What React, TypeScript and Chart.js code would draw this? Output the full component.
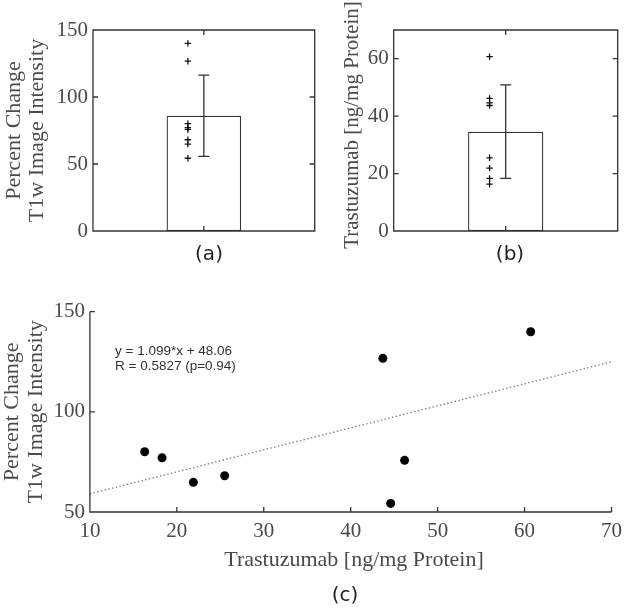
import React, { useEffect, useRef } from 'react';
import { Chart, registerables } from 'chart.js';

Chart.register(...registerables);

// ---------- data ----------
const trastuzumab = [16.3, 18.3, 21.9, 25.5, 43.7, 44.6, 46.2, 60.7]; // ng/mg protein
const intensity = [80.1, 77.1, 64.8, 68.1, 126.7, 54.3, 75.8, 140.0]; // % change T1w
const barMeans = [86.0, 34.6]; // (a), (b)
const barSDs = [30.3, 16.3];
const fitX = [10, 70];
const fitY = [59.05, 124.99];
const ticksA = [0, 50, 100, 150];
const ticksB = [0, 20, 40, 60];
const ticksCx = [10, 20, 30, 40, 50, 60, 70];
const ticksCy = [50, 100, 150];
const equationLines = ['y = 1.099*x + 48.06', 'R = 0.5827 (p=0.94)'];
const panelLabels = ['(a)', '(b)', '(c)'];
const titleIntensity = ['Percent Change', 'T1w Image Intensity'];
const titleTrastuzumab = 'Trastuzumab [ng/mg Protein]';

// ---------- styles ----------
const AXIS = '#333333';
const TEXT = '#4a4a4a';
const SERIF = "'Liberation Serif', 'DejaVu Serif', serif";
const SANS = "'DejaVu Sans', Verdana, sans-serif";
const ARIAL = "'Liberation Sans', Arial, sans-serif";
const PLUS_OFFSET = 0.18;
const TICK_LEN = 5;

function framePlugin(box: boolean, yTicks: number[], xTicks: number[]) {
  return {
    id: 'frame',
    afterDatasetsDraw(chart: any) {
      const { ctx, chartArea: a } = chart;
      const ys = chart.scales.y;
      const xs = chart.scales.x;
      ctx.save();
      ctx.strokeStyle = AXIS;
      ctx.lineWidth = 1.3;
      ctx.beginPath();
      if (box) {
        ctx.rect(a.left, a.top, a.right - a.left, a.bottom - a.top);
      } else {
        ctx.moveTo(a.left, a.top);
        ctx.lineTo(a.left, a.bottom);
        ctx.lineTo(a.right, a.bottom);
      }
      for (const v of yTicks) {
        const p = ys.getPixelForValue(v);
        ctx.moveTo(a.left, p);
        ctx.lineTo(a.left + TICK_LEN, p);
        if (box) {
          ctx.moveTo(a.right, p);
          ctx.lineTo(a.right - TICK_LEN, p);
        }
      }
      for (const v of xTicks) {
        const p = xs.getPixelForValue(v);
        ctx.moveTo(p, a.bottom);
        ctx.lineTo(p, a.bottom - TICK_LEN);
        if (box) {
          ctx.moveTo(p, a.top);
          ctx.lineTo(p, a.top + TICK_LEN);
        }
      }
      ctx.stroke();
      ctx.restore();
    },
  };
}

function errorBarPlugin(mean: number, sd: number) {
  return {
    id: 'errbar',
    afterDatasetsDraw(chart: any) {
      const { ctx } = chart;
      const x = chart.scales.x.getPixelForValue(0);
      const y = chart.scales.y;
      const t = y.getPixelForValue(mean + sd);
      const b = y.getPixelForValue(mean - sd);
      const cap = 5.5;
      ctx.save();
      ctx.strokeStyle = AXIS;
      ctx.lineWidth = 1.3;
      ctx.beginPath();
      ctx.moveTo(x, t);
      ctx.lineTo(x, b);
      ctx.moveTo(x - cap, t);
      ctx.lineTo(x + cap, t);
      ctx.moveTo(x - cap, b);
      ctx.lineTo(x + cap, b);
      ctx.stroke();
      ctx.restore();
    },
  };
}

type TextItem = { text: string; x: number; y: number; font: string; color: string; align?: CanvasTextAlign; rot?: number };

function textPlugin(items: TextItem[]) {
  return {
    id: 'texts',
    afterDraw(chart: any) {
      const { ctx } = chart;
      for (const it of items) {
        ctx.save();
        ctx.font = it.font;
        ctx.fillStyle = it.color;
        ctx.textAlign = it.align || 'center';
        ctx.textBaseline = 'middle';
        ctx.translate(it.x, it.y);
        if (it.rot) ctx.rotate(it.rot);
        ctx.fillText(it.text, 0, 0);
        ctx.restore();
      }
    },
  };
}

function setTicks(values: number[]) {
  return (s: any) => {
    s.ticks = values.map((v) => ({ value: v }));
  };
}

const tickFont = { family: SERIF, size: 21 };

function barConfig(
  mean: number,
  sd: number,
  samples: number[],
  yMax: number,
  yTicks: number[],
  yWidth: number,
  padRight: number,
  yTitle: any,
  texts: TextItem[]
): any {
  return {
    type: 'bar',
    data: {
      labels: [''],
      datasets: [
        {
          type: 'bar',
          data: [mean],
          backgroundColor: '#ffffff',
          borderColor: AXIS,
          borderWidth: 1.3,
          borderSkipped: false,
          grouped: false,
          categoryPercentage: 1,
          barPercentage: 0.336,
          order: 2,
        },
        {
          type: 'scatter',
          xAxisID: 'x2',
          data: samples.map((v) => ({ x: 1 - PLUS_OFFSET, y: v })),
          pointStyle: 'cross',
          radius: 3.2,
          borderColor: '#111111',
          backgroundColor: '#111111',
          borderWidth: 1.3,
          order: 1,
        },
      ],
    },
    options: {
      animation: false,
      responsive: false,
      events: [],
      layout: { padding: { left: 0, top: 30, right: padRight, bottom: 39 } },
      plugins: { legend: { display: false }, tooltip: { enabled: false } },
      scales: {
        x: { display: false },
        x2: { type: 'linear', display: false, min: 0, max: 2 },
        y: {
          min: 0,
          max: yMax,
          afterBuildTicks: setTicks(yTicks),
          afterFit: (s: any) => {
            s.width = yWidth;
          },
          grid: { display: false, drawTicks: false },
          border: { display: false },
          ticks: { padding: 5, color: TEXT, font: tickFont },
          title: yTitle,
        },
      },
    },
    plugins: [framePlugin(true, yTicks, [0]), errorBarPlugin(mean, sd), textPlugin(texts)],
  };
}

export default function App() {
  const refA = useRef<HTMLCanvasElement>(null);
  const refB = useRef<HTMLCanvasElement>(null);
  const refC = useRef<HTMLCanvasElement>(null);

  useEffect(() => {
    const charts: Chart[] = [];

    charts.push(
      new Chart(
        refA.current as HTMLCanvasElement,
        barConfig(
          barMeans[0],
          barSDs[0],
          intensity,
          150,
          ticksA,
          93,
          4,
          {
            display: true,
            text: titleIntensity,
            color: TEXT,
            font: { family: SERIF, size: 22, lineHeight: 1.045 },
            padding: { top: 2.5, bottom: 0 },
          },
          [{ text: panelLabels[0], x: 209, y: 255, font: `20px ${SANS}`, color: '#222' }]
        )
      )
    );

    charts.push(
      new Chart(
        refB.current as HTMLCanvasElement,
        barConfig(
          barMeans[1],
          barSDs[1],
          trastuzumab,
          70,
          ticksB,
          63.7,
          11.3,
          { display: false },
          [
            { text: panelLabels[1], x: 180, y: 255, font: `20px ${SANS}`, color: '#222' },
            { text: titleTrastuzumab, x: 22, y: 125, font: `21px ${SERIF}`, color: TEXT, rot: -Math.PI / 2 },
          ]
        )
      )
    );

    charts.push(
      new Chart(refC.current as HTMLCanvasElement, {
        type: 'scatter',
        data: {
          datasets: [
            {
              type: 'scatter',
              data: trastuzumab.map((x, i) => ({ x, y: intensity[i] })),
              pointStyle: 'circle',
              radius: 4.5,
              backgroundColor: '#000000',
              borderColor: '#000000',
              borderWidth: 0,
              order: 1,
            },
            {
              type: 'line',
              data: fitX.map((x, i) => ({ x, y: fitY[i] })),
              borderColor: '#808080',
              borderWidth: 1.4,
              borderDash: [1.4, 2.4],
              pointRadius: 0,
              fill: false,
              order: 2,
            },
          ],
        },
        options: {
          animation: false,
          responsive: false,
          events: [],
          layout: { padding: { left: 0, top: 21.7, right: 11.3, bottom: 0 } },
          plugins: { legend: { display: false }, tooltip: { enabled: false } },
          scales: {
            x: {
              type: 'linear',
              min: 10,
              max: 70,
              afterBuildTicks: setTicks(ticksCx),
              afterFit: (s: any) => {
                s.height = 102;
              },
              grid: { display: false, drawTicks: false },
              border: { display: false },
              ticks: { padding: 7, color: TEXT, font: tickFont, maxRotation: 0 },
            },
            y: {
              min: 50,
              max: 150,
              afterBuildTicks: setTicks(ticksCy),
              afterFit: (s: any) => {
                s.width = 89.9;
              },
              grid: { display: false, drawTicks: false },
              border: { display: false },
              ticks: { padding: 5, color: TEXT, font: tickFont },
              title: {
                display: true,
                text: titleIntensity,
                color: TEXT,
                font: { family: SERIF, size: 22, lineHeight: 1.09 },
                padding: { top: 0, bottom: 0 },
              },
            },
          },
        },
        plugins: [
          framePlugin(false, ticksCy, ticksCx),
          textPlugin([
            { text: equationLines[0], x: 115, y: 61, font: `13.5px ${ARIAL}`, color: '#333', align: 'left' },
            { text: equationLines[1], x: 115, y: 76, font: `13.5px ${ARIAL}`, color: '#333', align: 'left' },
            { text: titleTrastuzumab, x: 354, y: 270, font: `22px ${SERIF}`, color: TEXT },
            { text: panelLabels[2], x: 345, y: 306, font: `20px ${SANS}`, color: '#222' },
          ]),
        ],
      } as any)
    );

    return () => {
      charts.forEach((c) => c.destroy());
    };
  }, []);

  const abs = (left: number, top: number, w: number, h: number): React.CSSProperties => ({
    position: 'absolute',
    left,
    top,
    width: w,
    height: h,
    display: 'block',
  });

  return (
    <div style={{ position: 'absolute', left: 0, top: 0, width: 629, height: 614, background: '#fff', overflow: 'hidden' }}>
      <canvas ref={refA} width={320} height={270} style={abs(0, 0, 320, 270)} />
      <canvas ref={refB} width={299} height={270} style={abs(330, 0, 299, 270)} />
      <canvas ref={refC} width={629} height={324} style={abs(0, 290, 629, 324)} />
    </div>
  );
}
